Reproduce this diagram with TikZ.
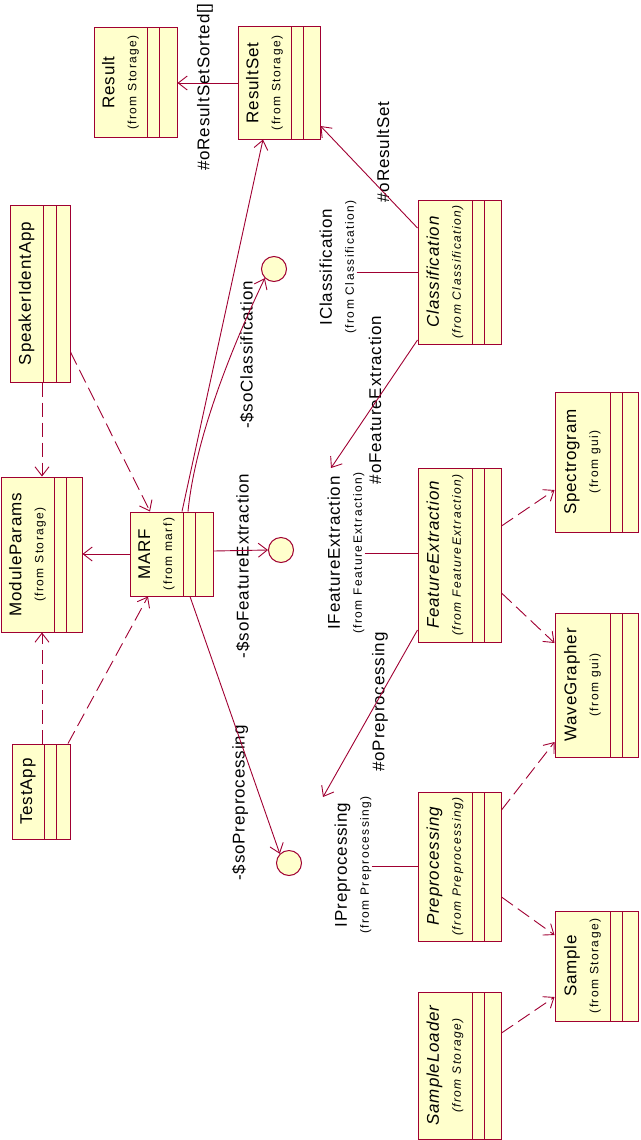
\documentclass[tikz,border=0pt]{standalone}
\usepackage{fontspec}
\setmainfont{Liberation Sans}
\newfontfamily\bigf{Liberation Sans}[LetterSpace=5]
\newfontfamily\smallf{Liberation Sans}[LetterSpace=12]
\usetikzlibrary{arrows.meta,fit}
\definecolor{umlred}{RGB}{160,0,50}
\definecolor{umlfill}{RGB}{255,255,204}
\tikzset{
  clsbox/.style={draw=umlred, fill=umlfill, line width=1pt, inner sep=0pt},
  cline/.style={draw=umlred, line width=1pt},
  conn/.style={draw=umlred, line width=0.9pt},
  dep/.style={conn, dash pattern=on 14pt off 6pt},
  oarr/.style={-{Straight Barb[length=9pt,width=14pt]}},
  iface/.style={circle, draw=umlred, fill=umlfill, line width=1pt, minimum size=25pt, inner sep=0pt},
  lbl/.style={rotate=90, inner sep=0pt, font=\bigf\fontsize{17}{20}\selectfont, text=black},
  ctext/.style={rotate=90, inner sep=0pt, align=center, font=\bigf\fontsize{17}{22}\selectfont},
}
\newcommand\SN[1]{{\smallf\fontsize{12}{14}\selectfont #1}}
\newcommand\ucls[8]{%
  \node[clsbox, fit={(#2,#3) (#4,#5)}] (#1) {};
  \draw[cline] (#6,#3) -- (#6,#5);
  \draw[cline] (#7,#3) -- (#7,#5);
  \node[ctext] (#1-t) at ({(#2+#6)/2},{(#3+#5)/2}) {#8};
}
\begin{document}
\begin{tikzpicture}[x=1pt,y=-1pt]
\useasboundingbox (0,0) rectangle (640,1140);
% classes
\ucls{result}{94}{28}{177}{137}{147}{159}{Result\\\SN{(from Storage)}}
\ucls{resultset}{238}{27}{320}{139}{291}{303}{ResultSet\\\SN{(from Storage)}}
\ucls{speaker}{10}{205}{70}{382}{43}{56}{SpeakerIdentApp}
\ucls{modparams}{1}{477}{82}{632}{54}{66}{ModuleParams\\\SN{(from Storage)}}
\ucls{marf}{130}{512}{213}{596}{183}{195}{MARF\\\SN{(from marf)}}
\ucls{testapp}{12}{744}{70}{839}{44}{56}{TestApp}
\ucls{classif}{418}{200}{501}{344}{472}{484}{\itshape Classification\\\SN{\itshape (from Classification)}}
\ucls{featex}{418}{468}{501}{642}{472}{484}{\itshape FeatureExtraction\\\SN{\itshape (from FeatureExtraction)}}
\ucls{prep}{418}{792}{501}{941}{472}{484}{\itshape Preprocessing\\\SN{\itshape (from Preprocessing)}}
\ucls{loader}{418}{992}{501}{1139}{472}{484}{\itshape SampleLoader\\\SN{\itshape (from Storage)}}
\ucls{spectro}{555}{392}{638}{532}{610}{622}{Spectrogram\\\SN{(from gui)}}
\ucls{wave}{555}{613}{638}{757}{610}{622}{WaveGrapher\\\SN{(from gui)}}
\ucls{sample}{555}{911}{638}{1021}{610}{622}{Sample\\\SN{(from Storage)}}
% interfaces
\node[iface] (ic) at (274,269) {};
\node[iface] (ife) at (281,550) {};
\node[iface] (ipp) at (289,863) {};
\node[ctext] (iclbl) at (338,267) {IClassification\\\SN{(from Classification)}};
\node[ctext] (ifelbl) at (346,553) {IFeatureExtraction\\\SN{(from FeatureExtraction)}};
\node[ctext] (ipplbl) at (353,865) {IPreprocessing\\\SN{(from Preprocessing)}};
\coordinate (ifeend) at (331,468);
\coordinate (ippend) at (323,797);
% role labels
\node[lbl] (l1) at (205,87) {\#oResultSetSorted[]};
\node[lbl] (l2) at (383,152) {\#oResultSet};
\node[lbl] (l3) at (247,355) {-\$soClassification};
\node[lbl] (l4) at (243,566) {-\$soFeatureExtraction};
\node[lbl] (l5) at (240,803) {-\$soPreprocessing};
\node[lbl] (l6) at (375,400) {\#oFeatureExtraction};
\node[lbl] (l7) at (380,702) {\#oPreprocessing};
% connectors
\draw[conn,oarr] (resultset.west |- 0,83) -- (result.east |- 0,83);
\draw[dep,oarr] (speaker.south -| 42,0) -- (modparams.north -| 42,0);
\draw[dep,oarr] (speaker.east |- 0,352) -- (marf.north -| 150,0);
\draw[conn,oarr] (marf.west |- 0,554) -- (modparams.east |- 0,554);
\draw[conn,oarr] (marf.east |- 0,551) -- (ife.west);
\draw[conn,oarr] (marf.north -| 188,0) .. controls (196,430) and (240,330) .. (ic.south west);
\draw[conn,oarr] (marf.north -| 182,0) -- (resultset.south -| 263,0);
\draw[conn,oarr] (marf.south -| 190,0) -- (ipp.north west);
\draw[dep,oarr] (testapp.north -| 42,0) -- (modparams.south -| 42,0);
\draw[dep,oarr] (testapp.north -| 68,0) -- (marf.south -| 148,0);
\draw[conn,oarr] (classif.west |- 0,228) -- (resultset.east |- 0,126);
\draw[conn] (iclbl.south |- 0,272) -- (classif.west |- 0,272);
\draw[conn,oarr] (classif.west |- 0,340) -- (ifeend);
\draw[conn] (ifelbl.south |- 0,553) -- (featex.west |- 0,553);
\draw[dep,oarr] (featex.east |- 0,526) -- (spectro.west |- 0,490);
\draw[dep,oarr] (featex.east |- 0,593) -- (wave.west |- 0,643);
\draw[conn,oarr] (featex.west |- 0,630) -- (ippend);
\draw[conn] (ipplbl.south |- 0,866) -- (prep.west |- 0,866);
\draw[dep,oarr] (prep.east |- 0,810) -- (wave.west |- 0,742);
\draw[dep,oarr] (prep.east |- 0,897) -- (sample.west |- 0,935);
\draw[dep,oarr] (loader.east |- 0,1033) -- (sample.west |- 0,997);
\end{tikzpicture}
\end{document}
